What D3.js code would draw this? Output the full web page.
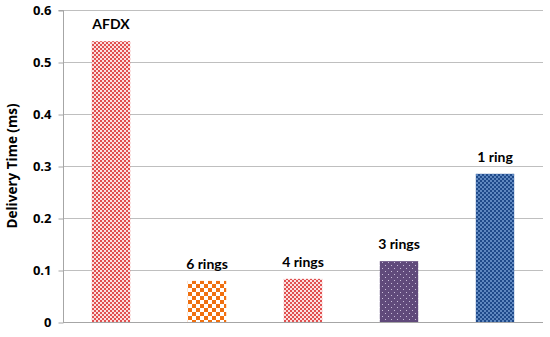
<!DOCTYPE html>
<html>
<head>
<meta charset="utf-8">
<script src="https://cdn.jsdelivr.net/npm/d3@7"></script>
<style>
  body { margin: 0; background: #fff; }
  svg { display: block; font-family: Lato, "Open Sans", sans-serif; }
</style>
</head>
<body>
<script>
// данные графика
var categories = ['AFDX', '6 rings', '4 rings', '3 rings', '1 ring'];
var values = [0.54, 0.079, 0.083, 0.117, 0.285];
var yTicks = [0, 0.1, 0.2, 0.3, 0.4, 0.5, 0.6];
var patternIds = ['pAfdx', 'p6', 'p4', 'p3', 'p1'];

var width = 550, height = 337,
    margin = {top: 10, right: 7, bottom: 15, left: 63};

var svg = d3.select('body').append('svg')
  .attr('width', width)
  .attr('height', height);

// узоры заливки
var defs = svg.append('defs');

function checker(id, size, c1, c2) {
  var p = defs.append('pattern')
    .attr('id', id)
    .attr('patternUnits', 'userSpaceOnUse')
    .attr('width', size * 2)
    .attr('height', size * 2);
  p.append('rect').attr('width', size * 2).attr('height', size * 2).attr('fill', c2);
  p.append('rect').attr('width', size).attr('height', size).attr('fill', c1);
  p.append('rect').attr('x', size).attr('y', size).attr('width', size).attr('height', size).attr('fill', c1);
}
checker('pAfdx', 2, '#e05050', '#fbe0e0');
checker('p6', 4, '#f07010', '#ffffff');
checker('p4', 2, '#e05050', '#fbe0e0');
checker('p1', 2, '#1f4a8a', '#5f88c0');

var dots = defs.append('pattern')
  .attr('id', 'p3')
  .attr('patternUnits', 'userSpaceOnUse')
  .attr('width', 6).attr('height', 6);
dots.append('rect').attr('width', 6).attr('height', 6).attr('fill', '#604a7b');
dots.append('rect').attr('x', 1).attr('y', 1).attr('width', 1).attr('height', 1).attr('fill', '#c8bcd8');
dots.append('rect').attr('x', 4).attr('y', 4).attr('width', 1).attr('height', 1).attr('fill', '#c8bcd8');

var x = d3.scaleBand()
  .domain(categories)
  .range([margin.left, width - margin.right])
  .paddingInner(0.6)
  .paddingOuter(0.3);

var y = d3.scaleLinear()
  .domain([0, 0.6])
  .range([height - margin.bottom, margin.top]);

// сетка
svg.append('g')
  .selectAll('line')
  .data(yTicks.slice(1))
  .enter().append('line')
  .attr('x1', margin.left).attr('x2', width - margin.right)
  .attr('y1', function(d) { return Math.round(y(d)) + 0.5; })
  .attr('y2', function(d) { return Math.round(y(d)) + 0.5; })
  .attr('stroke', '#bfbfbf');

// ось Y
var yAxis = svg.append('g')
  .attr('transform', 'translate(' + (margin.left + 0.5) + ',0.5)')
  .call(d3.axisLeft(y).tickValues(yTicks).tickSize(5).tickPadding(7)
    .tickFormat(function(d) { return d === 0 ? '0' : d3.format('.1f')(d); }));
yAxis.select('.domain').attr('stroke', '#a6a6a6').attr('d', 'M-5,' + y(0.6) + 'H0V' + y(0));
yAxis.selectAll('.tick line').attr('stroke', '#a6a6a6');
yAxis.selectAll('.tick text')
  .attr('fill', '#000')
  .style('font-family', '"Open Sans", sans-serif')
  .style('font-size', '13px')
  .style('font-weight', 'bold');

// нижняя линия
svg.append('line')
  .attr('x1', margin.left).attr('x2', width - margin.right)
  .attr('y1', y(0) + 0.5).attr('y2', y(0) + 0.5)
  .attr('stroke', '#a6a6a6');

// столбцы
svg.append('g')
  .selectAll('rect')
  .data(values)
  .enter().append('rect')
  .attr('x', function(d, i) { return x(categories[i]); })
  .attr('y', function(d) { return y(d); })
  .attr('width', x.bandwidth())
  .attr('height', function(d) { return y(0) - y(d); })
  .attr('fill', function(d, i) { return 'url(#' + patternIds[i] + ')'; });

// подписи
svg.append('g')
  .selectAll('text')
  .data(values)
  .enter().append('text')
  .attr('x', function(d, i) { return x(categories[i]) + x.bandwidth() / 2; })
  .attr('y', function(d) { return y(d) - 12; })
  .attr('text-anchor', 'middle')
  .style('font-size', '14px')
  .style('font-weight', 'bold')
  .text(function(d, i) { return categories[i]; });

// подпись оси
svg.append('text')
  .attr('transform', 'translate(17,' + y(0.3) + ') rotate(-90)')
  .attr('text-anchor', 'middle')
  .style('font-family', '"Open Sans", sans-serif')
  .style('font-size', '13.5px')
  .style('font-weight', 'bold')
  .text('Delivery Time (ms)');
</script>
</body>
</html>
